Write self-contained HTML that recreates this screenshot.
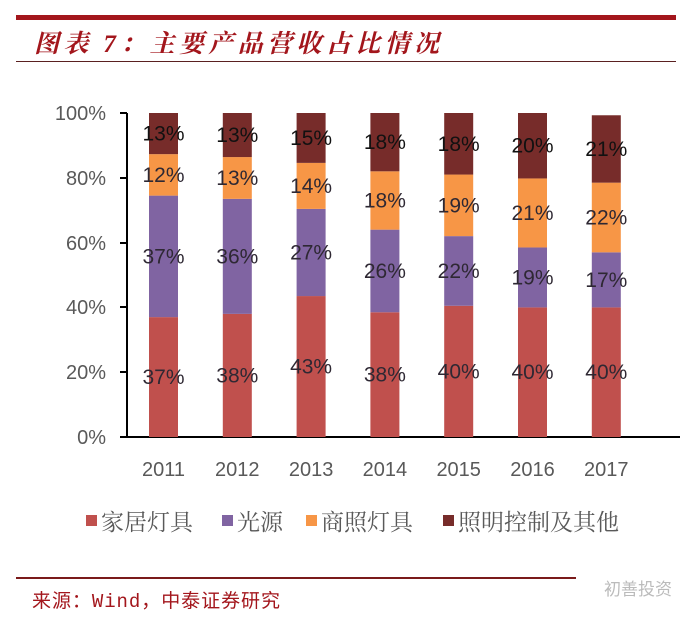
<!DOCTYPE html>
<html><head><meta charset="utf-8"><style>
body{margin:0;background:#fff;width:689px;height:615px;overflow:hidden;}
</style></head><body>
<svg width="689" height="615" xmlns="http://www.w3.org/2000/svg" font-family="'Liberation Sans','Noto Sans CJK SC',sans-serif">
<rect x="16" y="15" width="660" height="5" fill="#a3161c"/>
<text x="34" y="52" font-size="25" font-style="italic" font-weight="bold" fill="#a3161c" font-family="'Liberation Serif','Noto Serif CJK SC',serif" textLength="405" lengthAdjust="spacing">图表 7：主要产品营收占比情况</text>
<rect x="16" y="61" width="660" height="1" fill="#5a2020"/>
<g font-size="20" fill="#595959" text-anchor="end">
<text x="106" y="120">100%</text><text x="106" y="185">80%</text><text x="106" y="250">60%</text>
<text x="106" y="314">40%</text><text x="106" y="379">20%</text><text x="106" y="444">0%</text>
</g>
<g stroke="#000" stroke-width="2">
<line x1="127" y1="113" x2="127" y2="437"/><line x1="120" y1="437" x2="680" y2="437"/>
<line x1="120" y1="113" x2="127" y2="113"/><line x1="120" y1="178" x2="127" y2="178"/>
<line x1="120" y1="243" x2="127" y2="243"/><line x1="120" y1="307" x2="127" y2="307"/>
<line x1="120" y1="372" x2="127" y2="372"/>
</g>
<g id="bars"></g>
<g font-size="20" fill="#595959" text-anchor="middle" id="years"></g>
<g font-size="23" fill="#595959" font-family="'Liberation Serif','Noto Serif CJK SC',serif">
<rect x="86" y="515" width="11" height="11" fill="#c0504d"/><text x="101" y="530">家居灯具</text>
<rect x="222" y="515" width="11" height="11" fill="#8064a2"/><text x="237" y="530">光源</text>
<rect x="306" y="515" width="11" height="11" fill="#f79646"/><text x="321" y="530">商照灯具</text>
<rect x="443" y="515" width="11" height="11" fill="#772c2a"/><text x="458" y="530">照明控制及其他</text>
</g>
<rect x="16" y="577" width="560" height="2" fill="#7a1a1a"/>
<text x="32" y="607" font-size="19" fill="#a3161c" font-family="'Liberation Mono','Noto Sans CJK SC',monospace" textLength="248" lengthAdjust="spacing">来源：Wind，中泰证券研究</text>
<text x="672" y="595" font-size="17" fill="#bbb" text-anchor="end">初善投资</text>
<script>
var d=[[2011,37,74.5,87.3,100,"37%","37%","12%","13%"],[2012,38,73.5,86.4,100,"38%","36%","13%","13%"],
[2013,43.5,70.4,84.6,100,"43%","27%","14%","15%"],[2014,38.5,64,82,100,"38%","26%","18%","18%"],
[2015,40.5,62,81,100,"40%","22%","19%","18%"],[2016,40,58.5,79.8,100,"40%","19%","21%","20%"],
[2017,40,57,78.5,99.3,"40%","17%","22%","21%"]];
var cols=["#c0504d","#8064a2","#f79646","#772c2a"],ns="http://www.w3.org/2000/svg";
var g=document.getElementById("bars"),yg=document.getElementById("years");
function Y(p){return 437-p*3.24;}
d.forEach(function(r,i){var cx=163.5+i*73.8;var prev=0;
for(var k=0;k<4;k++){var t=r[k+1];var e=document.createElementNS(ns,"rect");
e.setAttribute("x",cx-14.5);e.setAttribute("width",29);e.setAttribute("y",Y(t));e.setAttribute("height",Y(prev)-Y(t));e.setAttribute("fill",cols[k]);g.appendChild(e);
var tx=document.createElementNS(ns,"text");tx.setAttribute("x",cx);tx.setAttribute("y",(Y(t)+Y(prev))/2+7);tx.setAttribute("text-anchor","middle");tx.setAttribute("font-size","21");tx.setAttribute("fill",k==3?"#111":"#2e2833");tx.textContent=r[k+5];g.appendChild(tx);prev=t;}
var y=document.createElementNS(ns,"text");y.setAttribute("x",cx);y.setAttribute("y",476);y.textContent=r[0];yg.appendChild(y);});
</script>
</svg>
</body></html>
